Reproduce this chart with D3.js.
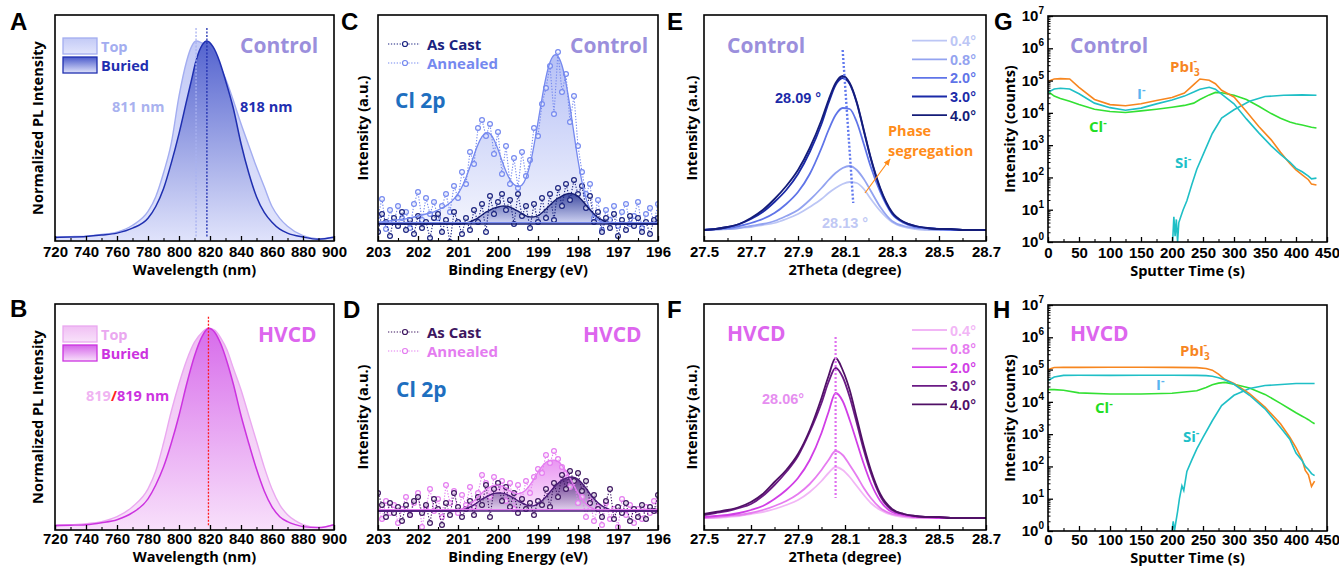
<!DOCTYPE html>
<html>
<head>
<meta charset="utf-8">
<script src="https://cdn.jsdelivr.net/npm/d3@7"></script>
<style>
  body { margin: 0; background: #fff; }
</style>
</head>
<body>
<svg id="fig" width="1339" height="567"></svg>
<script>
// ---------- data ----------
// A / B : PL spectra (normalized)
const wlA = [720, 730, 740, 750, 760, 770, 780, 785, 790, 795, 800, 805, 808, 811, 815, 818, 822, 826, 830, 835, 840, 845, 850, 855, 860, 865, 870, 880, 890, 900];
const plATop = [0.005, 0.007, 0.01, 0.018, 0.03, 0.065, 0.135, 0.21, 0.33, 0.48, 0.72, 0.9, 0.97, 1.0, 0.99, 0.98, 0.94, 0.88, 0.81, 0.70, 0.58, 0.47, 0.36, 0.26, 0.16, 0.10, 0.06, 0.012, -0.005, 0.005];
const plABur = [0.003, 0.005, 0.008, 0.015, 0.025, 0.05, 0.1, 0.16, 0.25, 0.38, 0.53, 0.7, 0.8, 0.9, 0.98, 1.0, 0.97, 0.9, 0.8, 0.66, 0.48, 0.33, 0.21, 0.13, 0.08, 0.045, 0.025, 0.005, -0.006, 0.004];

const wlB = [720, 730, 740, 750, 760, 770, 780, 785, 790, 795, 800, 805, 810, 815, 819, 823, 827, 831, 835, 840, 845, 850, 855, 860, 865, 870, 875, 880, 890, 900];
const plBTop = [0.01, 0.01, 0.015, 0.025, 0.05, 0.1, 0.19, 0.28, 0.42, 0.58, 0.72, 0.84, 0.93, 0.98, 1.0, 0.99, 0.95, 0.89, 0.8, 0.69, 0.56, 0.43, 0.3, 0.19, 0.11, 0.06, 0.03, 0.01, -0.005, 0.01];
const plBBur = [0.005, 0.007, 0.01, 0.02, 0.035, 0.07, 0.14, 0.21, 0.3, 0.42, 0.56, 0.72, 0.86, 0.96, 1.0, 0.98, 0.92, 0.83, 0.72, 0.56, 0.42, 0.29, 0.18, 0.1, 0.05, 0.025, 0.01, 0.0, -0.005, 0.01];

// C / D : Cl 2p XPS, binding energy 203.0 -> 196.0 eV, step 0.1
const bindE = d3.range(71).map(i => +(203 - i * 0.1).toFixed(1));
const fitCAnn = [2, 2, 3, 3, 4, 4, 5, 5, 6, 7, 8, 9, 10, 11, 12, 14, 16, 18, 21, 25, 30, 37, 46, 57, 69, 80, 88, 92, 91, 85, 75, 63, 52, 44, 39, 37, 38, 45, 58, 78, 102, 126, 148, 163, 170, 169, 160, 142, 118, 90, 63, 41, 25, 14, 8, 4, 2, 1, 1, 0, 0, 0, 0, 0, 0, 0, 0, 0, 0, 0, 0];
const fitCCast = [0, 0, 0, 0, 0, 0, 0, 0, 0, 0, 0, 0, 0, 0, 0, 0, 0, 0, 0, 0, 0, 0, 1, 2, 4, 6, 9, 12, 14, 16, 17, 18, 18, 17, 15, 13, 10, 8, 7, 7, 8, 11, 15, 19, 23, 26, 28, 30, 31, 30, 28, 24, 19, 14, 10, 6, 4, 2, 1, 0, 0, 0, 0, 0, 0, 0, 0, 0, 0, 0, 0];
const datCAnn = [8, 25, -5, 14, 2, 18, 6, 12, -4, 20, 32, 4, 26, 10, 22, 6, 18, 30, 12, 38, 26, 52, 40, 72, 60, 96, 104, 88, 100, 70, 92, 50, 78, 40, 66, 36, 72, 48, 64, 96, 88, 120, 136, 158, 110, 172, 132, 150, 102, 128, 78, 52, 30, 40, 6, 24, -6, 14, 4, 18, -2, 12, 20, 0, 8, 22, -4, 10, 16, 2, 20];
const datCCast = [-8, 10, 2, -12, 6, -2, 12, -6, 4, -10, 8, -4, 2, -14, 6, 10, -8, 4, -18, 12, 2, -10, 6, -6, 14, 2, 20, -8, 28, 10, 22, 30, 14, 24, 0, 30, 8, 18, -4, 20, 2, 26, 6, 30, 4, 36, 18, 40, 24, 44, 30, 38, 16, 28, 2, 12, -8, 6, -4, 10, -12, 4, -6, 8, -2, 6, -8, 2, -10, 4, 6];
const fitDAnn = [0, 0, 0, 0, 0, 0, 0, 0, 0, 0, 0, 0, 0, 0, 0, 0, 0, 0, 0, 0, 1, 2, 4, 7, 10, 14, 18, 22, 24, 26, 26, 25, 23, 20, 18, 17, 18, 21, 26, 32, 39, 45, 49, 51, 51, 50, 46, 40, 33, 25, 18, 12, 7, 4, 2, 1, 0, 0, 0, 0, 0, 0, 0, 0, 0, 0, 0, 0, 0, 0, 0];
const fitDCast = [0, 0, 0, 0, 0, 0, 0, 0, 0, 0, 0, 0, 0, 0, 0, 0, 0, 0, 0, 0, 0, 1, 2, 4, 6, 9, 12, 14, 16, 18, 18, 18, 17, 15, 13, 10, 8, 6, 5, 5, 7, 10, 14, 19, 24, 28, 31, 33, 34, 34, 32, 28, 23, 17, 12, 8, 5, 3, 1, 0, 0, 0, 0, 0, 0, 0, 0, 0, 0, 0, 0];
const datDAnn = [4, -8, 10, -2, 6, -12, 2, 14, -4, 8, 18, -16, 4, 22, 0, 12, -6, 26, 8, 20, -2, 16, 6, 24, 4, 18, 36, 28, 14, 34, 24, 30, 10, 28, 2, 26, 12, 30, 18, 34, 42, 38, 56, 48, 60, 52, 44, 38, 24, 30, 8, 14, -6, 10, -10, 4, -14, 8, -8, 2, -16, 12, -4, 6, -12, 2, -8, 4, -2, 10, 0];
const datDCast = [18, 6, -6, 8, -2, 4, -10, 6, -4, 10, 14, -2, 6, -12, 12, 2, -14, 8, -4, 18, 4, -6, 2, 10, -4, 14, 6, 26, -6, 22, 28, 10, 24, 4, 18, -2, 12, 2, 8, -4, 10, 6, 22, 4, 28, 14, 36, 22, 40, 30, 38, 20, 30, 8, 16, 2, -6, 10, 22, -8, 4, -2, 8, -10, 2, -6, 6, -8, 4, 0, 16];

// E / F : GIXRD peak for incidence angles
const twoTheta = [27.50, 27.55, 27.60, 27.65, 27.70, 27.75, 27.80, 27.85, 27.90, 27.95, 28.00, 28.03, 28.06, 28.09, 28.12, 28.15, 28.18, 28.21, 28.25, 28.30, 28.35, 28.40, 28.45, 28.50, 28.55, 28.60, 28.65, 28.70];
const angles = ["0.4°", "0.8°", "2.0°", "3.0°", "4.0°"];
const xrdE = [
  [0, 0, 1, 2, 3, 5, 7, 11, 16, 23, 31, 37, 42, 46, 48, 47, 41, 31, 19, 8, 3, 1, 0, 0, 0, 0, 0, 0],
  [0, 1, 1, 2, 4, 6, 9, 14, 20, 30, 42, 50, 57, 62, 64, 60, 51, 39, 23, 9, 4, 2, 1, 0, 0, 0, 0, 0],
  [0, 1, 2, 4, 7, 11, 17, 26, 38, 56, 82, 100, 115, 122, 121, 108, 86, 63, 38, 16, 7, 3, 2, 1, 0, 0, 0, 0],
  [0, 1, 3, 6, 11, 18, 28, 40, 56, 78, 106, 127, 145, 152, 146, 127, 99, 71, 41, 17, 8, 4, 2, 1, 1, 0, 0, 0],
  [0, 1, 3, 6, 12, 20, 31, 44, 60, 82, 110, 130, 147, 154, 147, 128, 100, 72, 42, 18, 8, 4, 2, 1, 1, 0, 0, 0]
];
const xrdF = [
  [0, 0, 1, 2, 4, 6, 9, 13, 18, 26, 37, 45, 51, 48, 41, 32, 23, 15, 8, 3, 1, 0, 0, 0, 0, 0, 0, 0],
  [0, 1, 2, 3, 5, 8, 12, 17, 24, 34, 48, 58, 67, 63, 53, 42, 30, 20, 10, 4, 2, 1, 0, 0, 0, 0, 0, 0],
  [1, 2, 3, 5, 8, 12, 19, 28, 40, 58, 85, 106, 125, 117, 98, 76, 54, 35, 17, 6, 3, 1, 1, 0, 0, 0, 0, 0],
  [3, 5, 7, 10, 14, 22, 33, 46, 62, 86, 115, 136, 150, 141, 121, 95, 68, 45, 22, 8, 4, 2, 1, 1, 0, 0, 0, 0],
  [4, 6, 8, 11, 16, 24, 36, 48, 64, 88, 120, 142, 160, 148, 128, 100, 72, 48, 24, 9, 4, 2, 1, 1, 0, 0, 0, 0]
];

// G / H : ToF-SIMS depth profiles (counts)
const tG = [0, 10, 20, 35, 50, 75, 100, 125, 150, 175, 200, 220, 235, 245, 260, 270, 280, 300, 320, 340, 360, 375, 390, 400, 410, 420, 425, 433];
const pbG = [9.5e4, 1.12e5, 1.15e5, 1.12e5, 6.2e4, 2.6e4, 1.8e4, 1.66e4, 1.92e4, 2.4e4, 3.0e4, 4.1e4, 7.5e4, 1.12e5, 1.02e5, 8.0e4, 5.0e4, 3.1e4, 1.1e4, 3.8e3, 1.46e3, 600, 270, 170, 120, 85, 62, 58];
const iG = [4.3e4, 5.5e4, 5.8e4, 5.5e4, 3.9e4, 2.0e4, 1.45e4, 1.2e4, 1.4e4, 1.9e4, 2.5e4, 3.3e4, 4.4e4, 5.4e4, 6.2e4, 5.4e4, 3.8e4, 1.9e4, 6.5e3, 2.4e3, 950, 520, 300, 190, 150, 110, 90, 95];
const clG = [4.6e4, 3.3e4, 2.8e4, 2.3e4, 1.8e4, 1.3e4, 1.1e4, 1.03e4, 1.15e4, 1.3e4, 1.5e4, 1.7e4, 2.0e4, 2.6e4, 3.6e4, 4.3e4, 4.2e4, 3.5e4, 2.6e4, 1.6e4, 9.5e3, 6.8e3, 5.2e3, 4.6e3, 4.2e3, 3.8e3, 3.6e3, 3.4e3];
const tSiG = [201, 203, 205, 207, 209, 211, 214, 218, 224, 232, 240, 250, 265, 280, 300, 325, 350, 380, 410, 433];
const siG = [1, 6, 1.5, 5, 1, 4, 6, 10, 19, 60, 180, 500, 2300, 6900, 1.25e4, 2.3e4, 3.2e4, 3.5e4, 3.6e4, 3.5e4];

const tH = [0, 10, 25, 50, 100, 150, 200, 240, 255, 265, 275, 285, 300, 325, 350, 375, 390, 400, 410, 415, 420, 425, 430];
const pbH = [1.0e5, 1.16e5, 1.18e5, 1.17e5, 1.18e5, 1.18e5, 1.17e5, 1.15e5, 1.08e5, 9.6e4, 7.2e4, 5.0e4, 3.7e4, 1.8e4, 6.9e3, 2.1e3, 800, 380, 160, 75, 55, 24, 35];
const iH = [4.6e4, 5.9e4, 6.6e4, 6.7e4, 6.6e4, 6.7e4, 6.7e4, 6.6e4, 6.5e4, 6.2e4, 5.6e4, 4.8e4, 3.5e4, 1.6e4, 6.1e3, 1.6e3, 700, 260, 150, 100, 80, 60, 52];
const clH = [2.4e4, 2.4e4, 2.3e4, 1.9e4, 1.75e4, 1.75e4, 1.85e4, 2.2e4, 2.8e4, 3.4e4, 3.8e4, 4.0e4, 3.5e4, 2.7e4, 1.7e4, 9e3, 6e3, 4.6e3, 3.6e3, 3.2e3, 2.8e3, 2.4e3, 2.1e3];
const tSiH = [200, 202, 204, 206, 209, 212, 216, 219, 224, 232, 240, 250, 265, 280, 300, 325, 350, 400, 430];
const siH = [1, 2, 1, 1.8, 4, 10, 25, 18, 70, 160, 350, 800, 2600, 7700, 1.6e4, 2.6e4, 3.2e4, 3.7e4, 3.7e4];

// ---------- drawing ----------
const FT = '"Liberation Sans", Arial, sans-serif';
const FL = '"Open Sans", "Noto Sans", sans-serif';
const svg = d3.select("#fig");
const defs = svg.append("defs");

function vgrad(id, c1, c2) {
  const g = defs.append("linearGradient").attr("id", id)
    .attr("x1", 0).attr("y1", 0).attr("x2", 0).attr("y2", 1);
  g.append("stop").attr("offset", "0%").attr("stop-color", c1);
  g.append("stop").attr("offset", "100%").attr("stop-color", c2);
}
vgrad("gATop", "#c3caf6", "#e2e5fc");
vgrad("gABur", "#4a5acb", "#e0e3fb");
vgrad("gBTop", "#f0bff4", "#f8e2fa");
vgrad("gBBur", "#d565ea", "#f8e0fb");
vgrad("gCAnn", "#a9b5f4", "#f0f2fd");
vgrad("gCCast", "#2b3896", "#d0d4f4");
vgrad("gDAnn", "#e583f0", "#fbe6fc");
vgrad("gDCast", "#4c1b78", "#e2d2ee");

defs.append("marker").attr("id", "arr").attr("viewBox", "0 0 10 10")
  .attr("refX", 9).attr("refY", 5).attr("markerWidth", 6).attr("markerHeight", 6)
  .attr("orient", "auto")
  .append("path").attr("d", "M0,1 L10,5 L0,9 Z").attr("fill", "#ff8c1a");

function plotArea(key, b) {
  defs.append("clipPath").attr("id", "clip" + key).append("rect")
    .attr("x", b.x0).attr("y", b.y0).attr("width", b.x1 - b.x0).attr("height", b.y1 - b.y0);
  return svg.append("g").attr("clip-path", `url(#clip${key})`);
}

function frame(b) {
  svg.append("rect").attr("x", b.x0).attr("y", b.y0)
    .attr("width", b.x1 - b.x0).attr("height", b.y1 - b.y0)
    .attr("fill", "none").attr("stroke", "#000").attr("stroke-width", 1.6);
}

function txt(x, y, s, o) {
  o = o || {};
  return svg.append("text").attr("x", x).attr("y", y)
    .attr("font-family", o.fam || FL).attr("font-weight", "bold")
    .attr("font-size", o.size || 14).attr("fill", o.color || "#000")
    .attr("text-anchor", o.anchor || "start").text(s);
}

function bottomAxis(b, x, majors, minors, fmt, title) {
  const lower = b.y1 > 400;
  const ax = svg.append("g").attr("transform", `translate(0,${b.y1})`)
    .call(d3.axisBottom(x).tickValues(majors).tickSizeInner(-5).tickSizeOuter(0)
      .tickPadding(lower ? 3 : 5).tickFormat(fmt));
  ax.select(".domain").remove();
  ax.selectAll("text").attr("font-family", FT).attr("font-weight", "bold")
    .attr("font-size", 15).attr("fill", "#000");
  ax.selectAll("line").attr("stroke", "#000").attr("stroke-width", 1.3);
  if (minors) {
    const mi = svg.append("g").attr("transform", `translate(0,${b.y1})`)
      .call(d3.axisBottom(x).tickValues(minors).tickSizeInner(-3).tickSizeOuter(0).tickFormat(""));
    mi.select(".domain").remove();
    mi.selectAll("line").attr("stroke", "#000").attr("stroke-width", 1.1);
  }
  txt((b.x0 + b.x1) / 2, b.y1 + (lower ? 32 : 34), title, { anchor: "middle", size: 14.5 });
}

function yTitle(x, b, title) {
  svg.append("text")
    .attr("transform", `translate(${x},${(b.y0 + b.y1) / 2}) rotate(-90)`)
    .attr("text-anchor", "middle").attr("dy", "0.35em")
    .attr("font-family", FL).attr("font-weight", "bold").attr("font-size", 14.5)
    .text(title);
}

function letter(x, y, s) {
  svg.append("text").attr("x", x).attr("y", y)
    .attr("font-family", '"Liberation Sans Narrow", "Arial Narrow", ' + FT)
    .attr("font-weight", "bold").attr("font-size", 24).text(s);
}

// ===== PL panels (A, B) =====
function plPanel(key, b, wl, top, bur, yDom, c) {
  const x = d3.scaleLinear().domain([720, 900]).range([b.x0, b.x1]);
  const y = d3.scaleLinear().domain(yDom).range([b.y1, b.y0]);
  const p = plotArea(key, b);
  const area = d3.area().x((d, i) => x(wl[i])).y0(b.y1).y1(d => y(d)).curve(d3.curveMonotoneX);
  const line = d3.line().x((d, i) => x(wl[i])).y(d => y(d)).curve(d3.curveMonotoneX);
  p.append("path").attr("d", area(top)).attr("fill", `url(#g${key}Top)`);
  p.append("path").attr("d", line(top)).attr("fill", "none").attr("stroke", c.top).attr("stroke-width", 1.4);
  p.append("path").attr("d", area(bur)).attr("fill", `url(#g${key}Bur)`).attr("opacity", 0.92);
  p.append("path").attr("d", line(bur)).attr("fill", "none").attr("stroke", c.bur).attr("stroke-width", 1.5);
  c.marks.forEach(m => {
    p.append("line").attr("x1", x(m.wl)).attr("x2", x(m.wl))
      .attr("y1", y(m.top)).attr("y2", y(0))
      .attr("stroke", m.color).attr("stroke-width", 1.3).attr("stroke-dasharray", "2,1.5");
  });
  bottomAxis(b, x, d3.range(720, 901, 20), d3.range(730, 900, 20), d3.format("d"), "Wavelength (nm)");
  yTitle(38, b, "Normalized PL Intensity");
  // legend boxes
  const lg = c.legendY;
  svg.append("rect").attr("x", 63).attr("y", lg).attr("width", 34).attr("height", 16)
    .attr("fill", `url(#g${key}Top)`).attr("stroke", c.top).attr("stroke-width", 1.3);
  svg.append("rect").attr("x", 63).attr("y", lg + 19).attr("width", 34).attr("height", 16)
    .attr("fill", `url(#g${key}Bur)`).attr("stroke", c.bur).attr("stroke-width", 1.3);
  txt(101, lg + 14, "Top", { color: c.topText, size: 14.5 });
  txt(101, lg + 33, "Buried", { color: c.bur, size: 14.5 });
  frame(b);
  return { x, y };
}

const bA = { x0: 55, x1: 334, y0: 15, y1: 241 };
plPanel("A", bA, wlA, plATop, plABur, [-0.015, 1.132], {
  top: "#a3adf0", topText: "#a3adf0", bur: "#1f2fb0", legendY: 38,
  marks: [{ wl: 811, top: 1.066, color: "#a9b2f0" }, { wl: 818, top: 1.066, color: "#1f2fb0" }]
});
txt(240, 53, "Control", { color: "#9b8fdc", size: 21 });
txt(112, 112, "811 nm", { color: "#a9b2ef", size: 14.5 });
txt(240, 112, "818 nm", { color: "#1f2fb0", size: 14.5 });
letter(10, 30, "A");

const bB = { x0: 55, x1: 334, y0: 304, y1: 530 };
plPanel("B", bB, wlB, plBTop, plBBur, [-0.017, 1.122], {
  top: "#eaa8f0", topText: "#eaa8f0", bur: "#cc33e0", legendY: 326,
  marks: [{ wl: 819, top: 1.058, color: "#ff1a1a" }]
});
txt(258, 342, "HVCD", { color: "#dd66ee", size: 21 });
const t819 = txt(86, 401, "", { size: 14.5 });
t819.append("tspan").attr("fill", "#f0b4f2").text("819");
t819.append("tspan").attr("fill", "#ff2020").text("/");
t819.append("tspan").attr("fill", "#cc33e0").text("819 nm");
letter(10, 317, "B");

// ===== XPS panels (C, D) =====
function xpsPanel(key, b, yDom, ann, annFit, cast, castFit, c) {
  const x = d3.scaleLinear().domain([203, 196]).range([b.x0, b.x1]);
  const y = d3.scaleLinear().domain(yDom).range([b.y1, b.y0]);
  const p = plotArea(key, b);
  const area = d3.area().x((d, i) => x(bindE[i])).y0(y(0)).y1(d => y(d)).curve(d3.curveBasis);
  const smooth = d3.line().x((d, i) => x(bindE[i])).y(d => y(d)).curve(d3.curveBasis);
  const raw = d3.line().x((d, i) => x(bindE[i])).y(d => y(d));

  p.append("path").attr("d", area(annFit)).attr("fill", `url(#g${key}Ann)`).attr("opacity", 0.85);
  p.append("path").attr("d", area(castFit)).attr("fill", `url(#g${key}Cast)`).attr("opacity", 0.9);

  function series(vals, col) {
    p.append("path").attr("d", raw(vals)).attr("fill", "none").attr("stroke", col)
      .attr("stroke-width", 1.1).attr("stroke-dasharray", "1.3,1.6");
    p.selectAll(null).data(vals).enter().append("circle")
      .attr("cx", (d, i) => x(bindE[i])).attr("cy", d => y(d)).attr("r", 2.4)
      .attr("fill", "#fff").attr("fill-opacity", 0.6).attr("stroke", col).attr("stroke-width", 1.2);
  }
  series(ann, c.ann);
  series(cast, c.cast);
  p.append("path").attr("d", smooth(annFit)).attr("fill", "none").attr("stroke", c.ann).attr("stroke-width", 1.3);
  p.append("path").attr("d", smooth(castFit)).attr("fill", "none").attr("stroke", c.castFit).attr("stroke-width", 1.4);
  p.append("line").attr("x1", b.x0).attr("x2", b.x1).attr("y1", y(1.5)).attr("y2", y(1.5))
    .attr("stroke", c.ann).attr("stroke-width", 1.2);
  p.append("line").attr("x1", b.x0).attr("x2", b.x1).attr("y1", y(0)).attr("y2", y(0))
    .attr("stroke", c.castFit).attr("stroke-width", 1.4);

  bottomAxis(b, x, d3.range(203, 195.5, -1), d3.range(202.5, 196, -1), d3.format("d"), "Binding Energy (eV)");
  yTitle(b.x0 - 15, b, "Intensity (a.u.)");

  // legend
  [["As Cast", c.cast, c.legY], ["Annealed", c.ann, c.legY + 19]].forEach(([name, col, ly]) => {
    svg.append("line").attr("x1", b.x0 + 10).attr("x2", b.x0 + 42).attr("y1", ly).attr("y2", ly)
      .attr("stroke", col).attr("stroke-width", 1.2).attr("stroke-dasharray", "1.3,1.6");
    svg.append("circle").attr("cx", b.x0 + 27).attr("cy", ly).attr("r", 2.5)
      .attr("fill", "#fff").attr("stroke", col).attr("stroke-width", 1.2);
    txt(b.x0 + 49, ly + 5.5, name, { color: col, size: 15 });
  });
  frame(b);
}

const bC = { x0: 378, x1: 658, y0: 15, y1: 241 };
xpsPanel("C", bC, [-17, 209], datCAnn, fitCAnn, datCCast, fitCCast,
  { ann: "#7589ef", cast: "#1a2380", castFit: "#141c70", legY: 44 });
txt(570, 53, "Control", { color: "#9b8fdc", size: 21 });
txt(395, 108, "Cl 2p", { color: "#1e6fc0", size: 21 });
letter(341, 30, "C");

const bD = { x0: 378, x1: 658, y0: 304, y1: 530 };
xpsPanel("D", bD, [-19, 207], datDAnn, fitDAnn, datDCast, fitDCast,
  { ann: "#e47cf0", cast: "#3d1660", castFit: "#4a1a78", legY: 332 });
txt(583, 342, "HVCD", { color: "#dd66ee", size: 21 });
txt(396, 397, "Cl 2p", { color: "#1e6fc0", size: 21 });
letter(343, 318, "D");

// ===== XRD panels (E, F) =====
function xrdPanel(key, b, yDom, series, colors, legY0) {
  const x = d3.scaleLinear().domain([27.5, 28.7]).range([b.x0, b.x1]);
  const y = d3.scaleLinear().domain(yDom).range([b.y1, b.y0]);
  const p = plotArea(key, b);
  const line = d3.line().x((d, i) => x(twoTheta[i])).y(d => y(d)).curve(d3.curveMonotoneX);
  series.forEach((s, k) => {
    p.append("path").attr("d", line(s)).attr("fill", "none")
      .attr("stroke", colors[k]).attr("stroke-width", 1.8);
  });
  bottomAxis(b, x, d3.range(27.5, 28.71, 0.2), d3.range(27.6, 28.7, 0.2), d3.format(".1f"), "2Theta (degree)");
  yTitle(b.x0 - 12, b, "Intensity (a.u.)");
  angles.forEach((a, k) => {
    const ly = legY0 + k * 18.6;
    svg.append("line").attr("x1", 912).attr("x2", 947).attr("y1", ly).attr("y2", ly)
      .attr("stroke", colors[k]).attr("stroke-width", 1.8);
    txt(950, ly + 5.5, a, { color: colors[k], size: 14.5, fam: FT });
  });
  frame(b);
  return { x, y };
}

const bE = { x0: 704, x1: 986, y0: 15, y1: 241 };
const colE = ["#bcc6f5", "#93a3f0", "#5f74e8", "#1b2aa8", "#141c78"];
const sE = xrdPanel("E", bE, [-11, 215], xrdE, colE, 40.7);
svg.append("line").attr("x1", sE.x(28.09)).attr("y1", sE.y(180))
  .attr("x2", sE.x(28.135)).attr("y2", sE.y(27))
  .attr("stroke", "#6078ee").attr("stroke-width", 2.4).attr("stroke-dasharray", "2,2");
txt(727, 53, "Control", { color: "#9b8fdc", size: 21 });
txt(775, 103, "28.09 °", { color: "#1b2aa8", size: 14.5, fam: FT });
txt(822, 228, "28.13 °", { color: "#c0c8f4", size: 14.5, fam: FT });
txt(888, 136, "Phase", { color: "#ff8c1a", size: 14.5 });
txt(888, 156, "segregation", { color: "#ff8c1a", size: 14.5 });
svg.append("line").attr("x1", 865).attr("y1", 193).attr("x2", 890).attr("y2", 159)
  .attr("stroke", "#ff8c1a").attr("stroke-width", 1.2).attr("marker-end", "url(#arr)");
letter(667, 30, "E");

const bF = { x0: 704, x1: 986, y0: 304, y1: 530 };
const colF = ["#f2b6f6", "#e67cf0", "#d13ee6", "#6b1a85", "#501066"];
const sF = xrdPanel("F", bF, [-12, 214], xrdF, colF, 330);
svg.append("line").attr("x1", sF.x(28.06)).attr("y1", sF.y(181))
  .attr("x2", sF.x(28.06)).attr("y2", sF.y(20))
  .attr("stroke", "#e070f0").attr("stroke-width", 2.2).attr("stroke-dasharray", "2,2");
txt(727, 341, "HVCD", { color: "#dd66ee", size: 21 });
txt(762, 404, "28.06°", { color: "#e68ef0", size: 14.5, fam: FT });
letter(667, 318, "F");

// ===== ToF-SIMS panels (G, H) =====
function simsPanel(key, b, sets) {
  const x = d3.scaleLinear().domain([0, 450]).range([b.x0, b.x1]);
  const y = d3.scaleLog().domain([1, 1e7]).range([b.y1, b.y0]).clamp(true);
  const p = plotArea(key, b);
  const line = d3.line().x(d => x(d[0])).y(d => y(d[1]));
  sets.forEach(s => {
    p.append("path").attr("d", line(d3.zip(s.t, s.v))).attr("fill", "none")
      .attr("stroke", s.color).attr("stroke-width", 1.6);
  });
  bottomAxis(b, x, d3.range(0, 451, 50), d3.range(25, 450, 50), d3.format("d"), "Sputter Time (s)");
  // y axis (log)
  const decades = d3.range(0, 8).map(e => Math.pow(10, e));
  const minors = [];
  decades.slice(0, 7).forEach(d => { for (let m = 2; m <= 9; m++) minors.push(d * m); });
  const ya = svg.append("g").attr("transform", `translate(${b.x0},0)`)
    .call(d3.axisLeft(y).tickValues(decades).tickSizeInner(-5).tickSizeOuter(0).tickFormat(""));
  ya.select(".domain").remove();
  ya.selectAll("line").attr("stroke", "#000").attr("stroke-width", 1.3);
  const ym = svg.append("g").attr("transform", `translate(${b.x0},0)`)
    .call(d3.axisLeft(y).tickValues(minors).tickSizeInner(-2.5).tickSizeOuter(0).tickFormat(""));
  ym.select(".domain").remove();
  ym.selectAll("line").attr("stroke", "#000").attr("stroke-width", 1);
  decades.forEach((d, e) => {
    const t = txt(b.x0 - 4, y(d) + 5, "", { anchor: "end", size: 15, fam: FT });
    t.append("tspan").text("10");
    t.append("tspan").attr("dy", -7).attr("font-size", 10).text(e);
  });
  yTitle(b.x0 - 38, b, "Intensity (counts)");
  frame(b);
}

function ion(x, y, base, color, sub) {
  const t = txt(x, y, "", { color: color, size: 15 });
  t.append("tspan").text(base);
  if (sub) {
    t.append("tspan").attr("dy", 4).attr("font-size", 10).text(sub);
    t.append("tspan").attr("dx", -6).attr("dy", -12).attr("font-size", 11).text("-");
  } else {
    t.append("tspan").attr("dy", -6).attr("font-size", 11).text("-");
  }
}

const cPb = "#f7861f", cI = "#1fbfc6", cCl = "#33e033", cSi = "#1fbfc6";
const bG = { x0: 1048, x1: 1327, y0: 16, y1: 242 };
simsPanel("G", bG, [
  { t: tG, v: clG, color: cCl },
  { t: tSiG, v: siG, color: cSi },
  { t: tG, v: pbG, color: cPb },
  { t: tG, v: iG, color: cI }
]);
txt(1070, 53, "Control", { color: "#9b8fdc", size: 21 });
ion(1170, 72, "PbI", "#f7861f", "3");
ion(1137, 99, "I", "#5ab4f0");
ion(1089, 132, "Cl", "#22dd22");
ion(1175, 168, "Si", "#20bfc8");
letter(994, 30, "G");

const bH = { x0: 1048, x1: 1327, y0: 305, y1: 531 };
simsPanel("H", bH, [
  { t: tH, v: clH, color: cCl },
  { t: tSiH, v: siH, color: cSi },
  { t: tH, v: pbH, color: cPb },
  { t: tH, v: iH, color: cI }
]);
txt(1070, 341, "HVCD", { color: "#dd66ee", size: 21 });
ion(1180, 356, "PbI", "#f7861f", "3");
ion(1156, 390, "I", "#5ab4f0");
ion(1095, 413, "Cl", "#22dd22");
ion(1183, 442, "Si", "#20bfc8");
letter(993, 318, "H");
</script>
</body>
</html>
